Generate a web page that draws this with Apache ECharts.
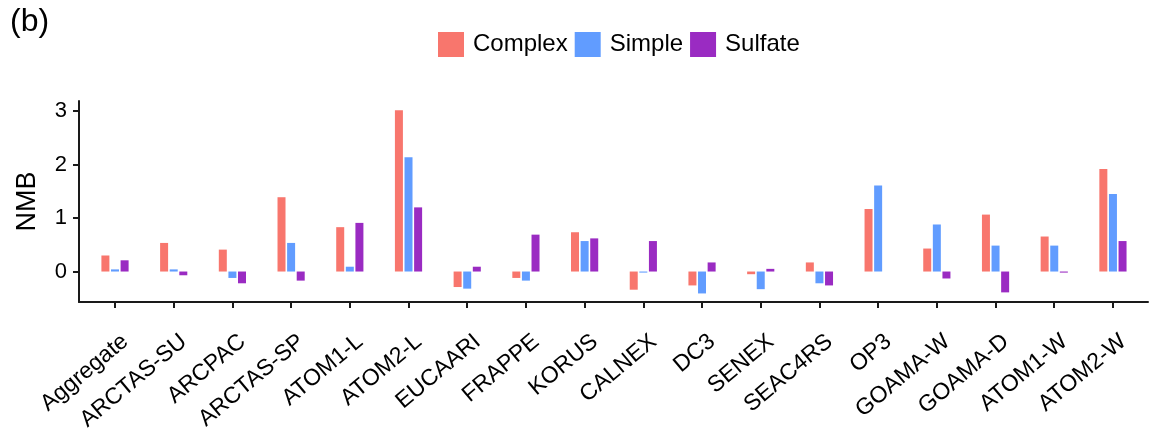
<!DOCTYPE html>
<html>
<head>
<meta charset="utf-8">
<script src="https://cdn.jsdelivr.net/npm/echarts@6/dist/echarts.min.js"></script>
<style>
html,body{margin:0;padding:0;background:#fff;}
#chart{width:1151px;height:428px;}
</style>
</head>
<body>
<div id="chart"></div>
<script>
const categories = ["Aggregate","ARCTAS-SU","ARCPAC","ARCTAS-SP","ATOM1-L","ATOM2-L","EUCAARI","FRAPPE","KORUS","CALNEX","DC3","SENEX","SEAC4RS","OP3","GOAMA-W","GOAMA-D","ATOM1-W","ATOM2-W"];
const complexVals = [0.30, 0.535, 0.41, 1.39, 0.83, 3.015, -0.29, -0.12, 0.735, -0.34, -0.26, -0.05, 0.17, 1.17, 0.43, 1.065, 0.655, 1.92];
const simpleVals  = [0.04, 0.04, -0.12, 0.535, 0.09, 2.14, -0.32, -0.17, 0.57, -0.02, -0.41, -0.33, -0.22, 1.61, 0.88, 0.485, 0.485, 1.45];
const sulfateVals = [0.21, -0.07, -0.22, -0.17, 0.91, 1.20, 0.09, 0.69, 0.62, 0.57, 0.17, 0.05, -0.26, null, -0.13, -0.39, -0.02, 0.57];
const yTicks = [0, 1, 2, 3];
const seriesNames = ["Complex", "Simple", "Sulfate"];
const seriesColors = ["#F8766D", "#619CFF", "#9A2BC2"];

const FONT = "'Liberation Sans', Arial, sans-serif";
const Y_MIN = -0.57, Y_MAX = 3.19;
const axisColor = "#1a1a1a";

const chart = echarts.init(document.getElementById('chart'), null, {renderer: 'canvas'});
const vals = [complexVals, simpleVals, sulfateVals];

chart.setOption({
  animation: false,
  backgroundColor: '#fff',
  title: {
    text: '(b)', left: 10, top: 6, padding: 0,
    textStyle: {fontFamily: FONT, fontSize: 32, fontWeight: 'normal', color: '#000'}
  },
  legend: {
    left: 438, top: 32, padding: 0,
    itemWidth: 26, itemHeight: 25, itemGap: 7,
    icon: 'rect',
    data: seriesNames,
    textStyle: {fontFamily: FONT, fontSize: 24, color: '#000', padding: [0, 0, 0, 4]}
  },
  grid: [
    {left: 85.65, right: 8.7, top: 101, bottom: 126, outerBoundsMode: 'none', containLabel: false},
    {left: 79, right: 3, top: 101, bottom: 126, outerBoundsMode: 'none', containLabel: false}
  ],
  xAxis: [
    {
      type: 'category', gridIndex: 0, data: categories, boundaryGap: true,
      axisLine: {show: false, onZero: false},
      axisTick: {show: true, alignWithLabel: true, length: 6, lineStyle: {color: axisColor, width: 2}},
      axisLabel: {
        interval: 0, rotate: 40, fontFamily: FONT, fontSize: 23, color: '#000',
        margin: 12, align: 'right', verticalAlign: 'top', padding: [14, 8, 0, 0],
        hideOverlap: false
      },
      splitLine: {show: false}
    },
    {
      type: 'value', gridIndex: 1, min: 0, max: 1,
      axisLine: {show: true, onZero: false, lineStyle: {color: axisColor, width: 2}},
      axisTick: {show: false}, axisLabel: {show: false}, splitLine: {show: false}
    }
  ],
  yAxis: [
    {type: 'value', gridIndex: 0, min: Y_MIN, max: Y_MAX, show: false, splitLine: {show: false}},
    {
      type: 'value', gridIndex: 1, min: Y_MIN, max: Y_MAX,
      name: 'NMB', nameLocation: 'middle', nameGap: 38, nameRotate: 90,
      nameTextStyle: {fontFamily: FONT, fontSize: 27, color: '#000'},
      axisLine: {show: true, onZero: false, lineStyle: {color: axisColor, width: 2}},
      axisTick: {show: true, length: 6, customValues: yTicks, lineStyle: {color: axisColor, width: 2}},
      axisLabel: {fontFamily: FONT, fontSize: 22, color: '#000', margin: 12, customValues: yTicks},
      splitLine: {show: false}
    }
  ],
  series: seriesNames.map((name, i) => ({
    name: name, type: 'bar', xAxisIndex: 0, yAxisIndex: 0,
    data: vals[i], barWidth: 8, barGap: '20%',
    itemStyle: {color: seriesColors[i]}
  }))
});
</script>
</body>
</html>
